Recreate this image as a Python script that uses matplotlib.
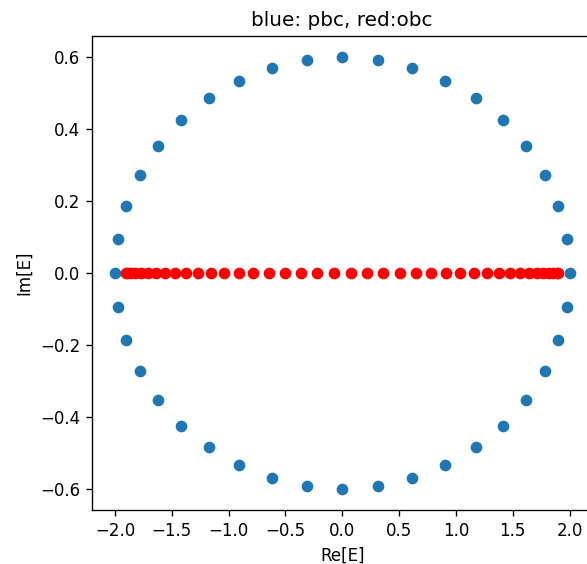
import numpy as np
import matplotlib.pyplot as plt

# periodic boundary spectrum (blue)
re_pbc = [2.0, 1.975, 1.902, 1.782, 1.618, 1.414, 1.176, 0.908, 0.618, 0.313,
          0.0, -0.313, -0.618, -0.908, -1.176, -1.414, -1.618, -1.782, -1.902, -1.975,
          -2.0, -1.975, -1.902, -1.782, -1.618, -1.414, -1.176, -0.908, -0.618, -0.313,
          0.0, 0.313, 0.618, 0.908, 1.176, 1.414, 1.618, 1.782, 1.902, 1.975]
im_pbc = [0.0, 0.094, 0.185, 0.272, 0.353, 0.424, 0.485, 0.535, 0.571, 0.593,
          0.6, 0.593, 0.571, 0.535, 0.485, 0.424, 0.353, 0.272, 0.185, 0.094,
          0.0, -0.094, -0.185, -0.272, -0.353, -0.424, -0.485, -0.535, -0.571, -0.593,
          -0.6, -0.593, -0.571, -0.535, -0.485, -0.424, -0.353, -0.272, -0.185, -0.094]

# open boundary spectrum (red), all real
re_obc = [1.902, 1.886, 1.858, 1.819, 1.770, 1.710, 1.640, 1.561, 1.472, 1.375,
          1.270, 1.157, 1.037, 0.912, 0.781, 0.645, 0.506, 0.363, 0.219, 0.073,
          -0.073, -0.219, -0.363, -0.506, -0.645, -0.781, -0.912, -1.037, -1.157, -1.270,
          -1.375, -1.472, -1.561, -1.640, -1.710, -1.770, -1.819, -1.858, -1.886, -1.902]
im_obc = [0.0] * 40

fig = plt.figure(figsize=(587 / 120, 564 / 120), dpi=120)
ax = fig.add_axes([0.157, 0.095, 0.852, 0.842])

ax.scatter(re_pbc, im_pbc)
ax.scatter(re_obc, im_obc, c='red')

ax.set_xlim(-2.2, 2.2)
ax.set_ylim(-0.66, 0.66)
ax.set_xticks(np.arange(-2.0, 2.01, 0.5))
ax.set_yticks(np.arange(-0.6, 0.61, 0.2))
ax.set_xlabel('Re[E]')
ax.set_ylabel('Im[E]')
ax.set_title('blue: pbc, red:obc')

fig.savefig('out.png', dpi=120)
